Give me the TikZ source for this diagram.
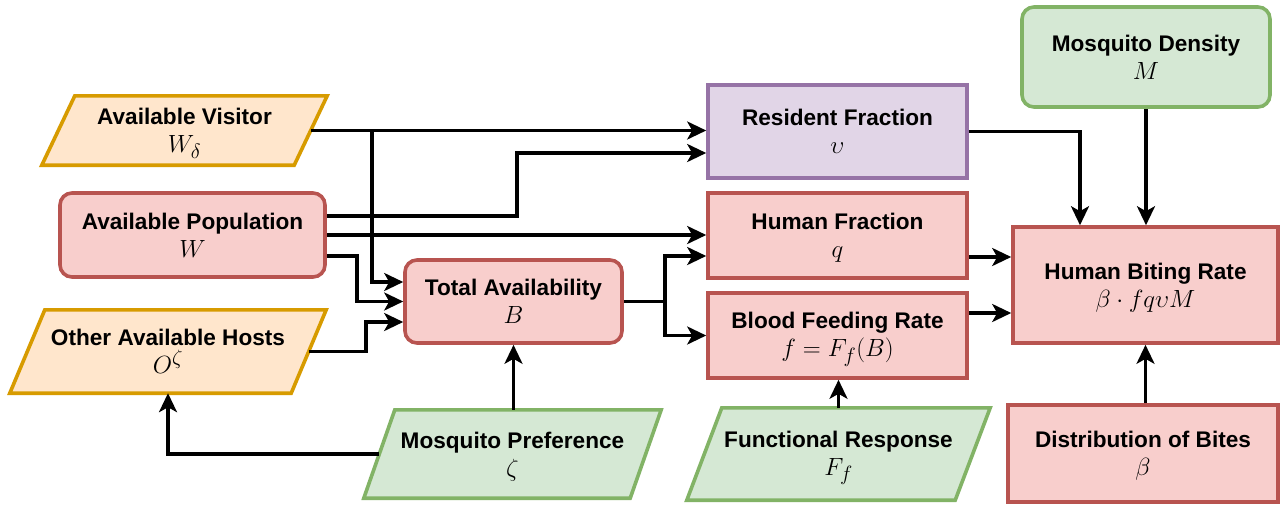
\documentclass[tikz,border=0pt]{standalone}
\usepackage[no-math]{fontspec}
\newfontfamily\sansb{Liberation Sans}
\usetikzlibrary{arrows.meta,calc}

\definecolor{orgF}{HTML}{FFE6CC}\definecolor{orgS}{HTML}{D79B00}
\definecolor{redF}{HTML}{F8CECC}\definecolor{redS}{HTML}{B85450}
\definecolor{purF}{HTML}{E1D5E7}\definecolor{purS}{HTML}{9673A6}
\definecolor{grnF}{HTML}{D5E8D4}\definecolor{grnS}{HTML}{82B366}

\pgfdeclarelayer{bg}
\pgfdeclarelayer{shapes}
\pgfsetlayers{bg,shapes,main}

% two-line label: bold caption over a formula
\newcommand\nodetext[2]{\rule{0pt}{24pt}#1\\{\fontsize{29}{28}\selectfont$#2$}\rule[-8pt]{0pt}{8pt}}

% parallelogram drawn round an invisible rectangular node, with side mid-points
\newcommand\parashape[3]{%
  \begin{pgfonlayer}{shapes}
    \draw[#3] (#1.south west) -- ([xshift=#2pt]#1.north west) -- (#1.north east)
      -- ([xshift=-#2pt]#1.south east) -- cycle;
  \end{pgfonlayer}
  \coordinate (#1-r) at ([xshift=-0.5*#2pt]#1.east);
  \coordinate (#1-l) at ([xshift=0.5*#2pt]#1.west);
}

\tikzset{
  lbl/.style={align=center, inner sep=0pt,
    font=\fontsize{22.6}{28}\selectfont\sansb\bfseries},
  border/.style={line width=3.6pt},
  orange/.style={border, draw=orgS, fill=orgF},
  red/.style={border, draw=redS, fill=redF},
  purple/.style={border, draw=purS, fill=purF},
  green/.style={border, draw=grnS, fill=grnF},
  roundbox/.style={rounded corners=12pt},
  conn/.style={line width=3.1pt, -{Stealth[length=19pt,width=18pt,inset=5pt]}}
}

\begin{document}
\begin{tikzpicture}[x=1pt,y=-1pt]
\useasboundingbox (0,0) rectangle (1288,504);
\begin{pgfonlayer}{bg}
  \fill[white] (0,0) rectangle (1288,504);
\end{pgfonlayer}

% input parallelograms
\node[lbl, minimum width=285, minimum height=69] (vis) at (184.5,130.5)
  {\nodetext{Available Visitor}{W_\delta}};
\parashape{vis}{33}{orange}
\node[lbl, minimum width=316, minimum height=83] (oth) at (168,351.5)
  {\nodetext{Other Available Hosts}{O^\zeta}};
\parashape{oth}{35}{orange}
\node[lbl, minimum width=297, minimum height=88] (pref) at (512.5,454)
  {\nodetext{Mosquito Preference}{\zeta}};
\parashape{pref}{31}{green}
\node[lbl, minimum width=303, minimum height=92] (fun) at (838.5,454)
  {\nodetext{Functional Response}{F_f}};
\parashape{fun}{35}{green}

% boxes
\node[lbl, red, roundbox, minimum width=265, minimum height=84] (pop) at (192.5,235)
  {\nodetext{Available Population}{W}};
\node[lbl, red, roundbox, minimum width=217, minimum height=83] (tot) at (513.5,301.5)
  {\nodetext{Total Availability}{B}};
\node[lbl, purple, minimum width=259, minimum height=93] (res) at (837.5,131.5)
  {\nodetext{Resident Fraction}{\upsilon}};
\node[lbl, red, minimum width=259, minimum height=85] (hum) at (837.5,235.5)
  {\nodetext{Human Fraction}{q}};
\node[lbl, red, minimum width=259, minimum height=85] (bfr) at (837.5,335.5)
  {\nodetext{Blood Feeding Rate}{f=F_f(B)}};
\node[lbl, green, roundbox, minimum width=248, minimum height=100] (den) at (1146,57)
  {\nodetext{Mosquito Density}{M}};
\node[lbl, red, minimum width=265, minimum height=116] (hbr) at (1145.5,285)
  {\nodetext{Human Biting Rate}{\beta\cdot fq\upsilon M}};
\node[lbl, red, minimum width=270, minimum height=97] (dist) at (1143,453.5)
  {\nodetext{Distribution of Bites}{\beta}};

% routing columns
\coordinate (xa) at (372,0);
\coordinate (xb) at (517,0);
\coordinate (xc) at (357,0);
\coordinate (xd) at (366,0);
\coordinate (xe) at (665,0);
\coordinate (xf) at (1080,0);

% entry and exit points off the centre line
\coordinate (resin2) at ([yshift=-21.5pt]res.west);
\coordinate (totin1) at ([yshift=19.5pt]tot.west);
\coordinate (totin3) at ([yshift=-20.5pt]tot.west);
\coordinate (humin2) at ([yshift=-20.5pt]hum.west);
\coordinate (popout1) at ([yshift=19pt]pop.east);
\coordinate (popout3) at ([yshift=-21pt]pop.east);
\coordinate (humout) at ([yshift=-21.5pt]hum.east);
\coordinate (bfrout) at ([yshift=22.5pt]bfr.east);

% connectors
\draw[conn] (vis-r) -- (vis-r -| res.west);
\draw[conn] (vis-r -| xa) |- (totin1);
\draw[conn] (popout1) -| (xb |- resin2) -- (resin2);
\draw[conn] (pop.east) -- (pop.east -| hum.west);
\draw[conn] (popout3) -| (xc |- tot.west) -- (tot.west);
\draw[conn] (oth-r) -| (xd |- totin3) -- (totin3);
\draw[conn] (tot.south |- pref.north) -- (tot.south);
\draw[conn] (pref-l) -| (oth.south);
\draw[conn] (tot.east) -| (xe |- humin2) -- (humin2);
\draw[conn] (xe |- tot.east) |- (bfr.west);
\draw[conn] (res.east) -| (xf |- hbr.north);
\draw[conn] (den.south) -- (den.south |- hbr.north);
\draw[conn] (humout) -- (humout -| hbr.west);
\draw[conn] (bfrout) -- (bfrout -| hbr.west);
\draw[conn] (fun.north) -- (fun.north |- bfr.south);
\draw[conn] (hbr.south |- dist.north) -- (hbr.south);
\end{tikzpicture}
\end{document}
